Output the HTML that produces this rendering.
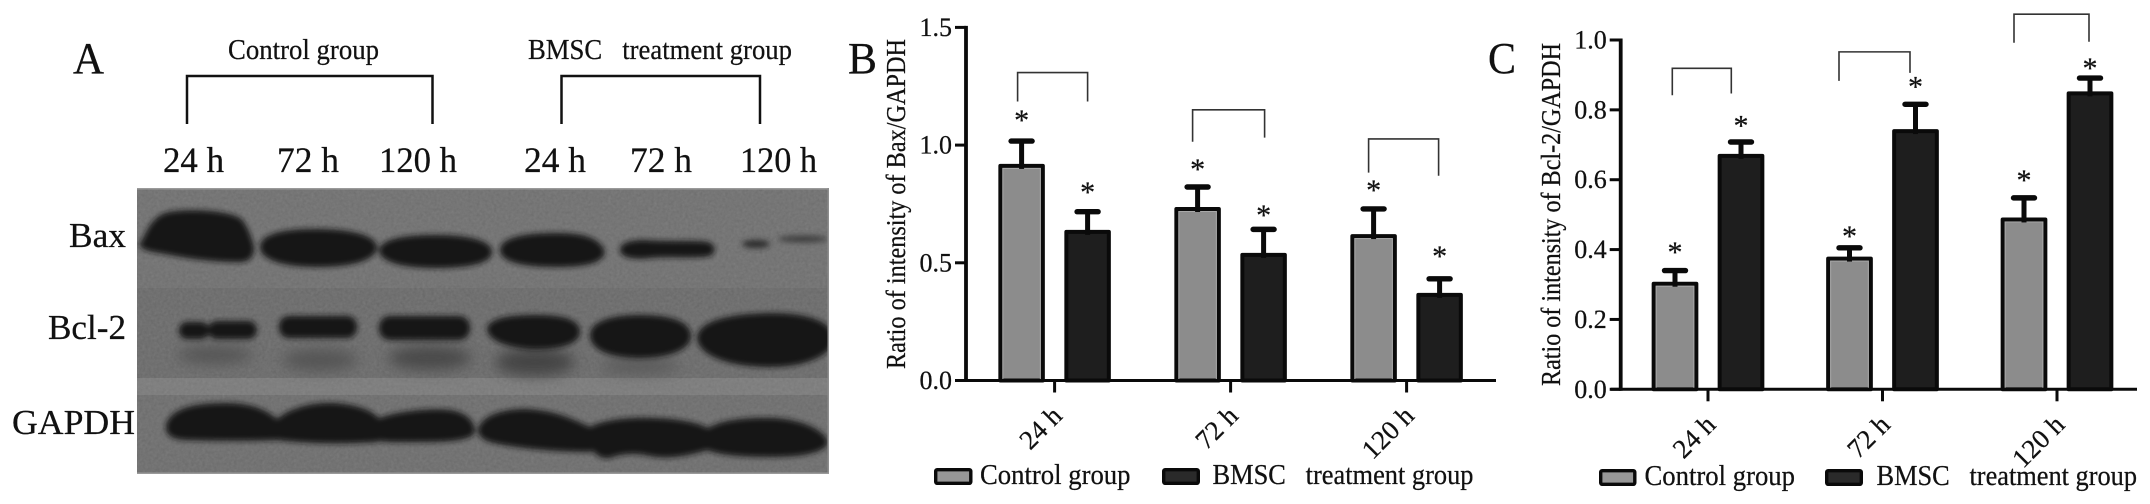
<!DOCTYPE html>
<html lang="en">
<head>
<meta charset="utf-8">
<title>Bax and Bcl-2 western blot and intensity ratios</title>
<style>
html,body{margin:0;padding:0;background:#fff;width:2150px;height:504px;overflow:hidden}
svg{display:block;position:absolute;left:0;top:0}
text{font-family:"Liberation Serif","Times New Roman",serif;fill:#111;stroke:#111;stroke-width:.25px;white-space:pre}
</style>
</head>
<body>
<svg id="figure" xmlns="http://www.w3.org/2000/svg" width="2150" height="504" viewBox="0 0 2150 504">
  <defs>
    <filter id="blur-band" x="-20%" y="-40%" width="140%" height="180%"><feGaussianBlur stdDeviation="2.8"/></filter>
    <filter id="blur-soft" x="-30%" y="-60%" width="160%" height="220%"><feGaussianBlur stdDeviation="7"/></filter>
    <filter id="blur-edge" x="-5%" y="-60%" width="110%" height="220%"><feGaussianBlur stdDeviation="5"/></filter>
    <filter id="grain" x="0" y="0" width="100%" height="100%"><feTurbulence type="fractalNoise" baseFrequency="0.35" numOctaves="2" seed="4"/><feColorMatrix type="matrix" values="0 0 0 0 0.5  0 0 0 0 0.5  0 0 0 0 0.5  0.6 0.6 0 0 -0.2"/></filter>
    <clipPath id="blot-clip"><rect x="137" y="188" width="692" height="286"/></clipPath>
  </defs>

  <g id="panel-a">
    <text x="73" y="73" font-size="44" textLength="31" lengthAdjust="spacingAndGlyphs">A</text>
    <text x="228" y="59" font-size="29" textLength="151" lengthAdjust="spacingAndGlyphs">Control group</text>
    <text x="528" y="59" font-size="29" textLength="264" lengthAdjust="spacingAndGlyphs">BMSC   treatment group</text>
    <path d="M187 124V76H432.500V124" fill="none" stroke="#111" stroke-width="2.500"/>
    <path d="M561.500 124V76H760V124" fill="none" stroke="#111" stroke-width="2.500"/>
    <text x="163" y="172" font-size="36" textLength="61" lengthAdjust="spacingAndGlyphs">24 h</text>
    <text x="277" y="172" font-size="36" textLength="62" lengthAdjust="spacingAndGlyphs">72 h</text>
    <text x="379" y="172" font-size="36" textLength="78" lengthAdjust="spacingAndGlyphs">120 h</text>
    <text x="524" y="172" font-size="36" textLength="62" lengthAdjust="spacingAndGlyphs">24 h</text>
    <text x="630" y="172" font-size="36" textLength="62" lengthAdjust="spacingAndGlyphs">72 h</text>
    <text x="740" y="172" font-size="36" textLength="77" lengthAdjust="spacingAndGlyphs">120 h</text>

    <g clip-path="url(#blot-clip)">
      <rect x="137" y="188" width="692" height="286" fill="#6e6e6e"/>
      <rect x="137" y="288" width="692" height="90" fill="#686868"/>
      <rect x="137" y="378" width="692" height="22" fill="#797979"/>
      <rect x="137" y="395" width="692" height="79" fill="#6b6b6b"/>
      <rect x="137" y="188" width="692" height="286" filter="url(#grain)" opacity="0.25"/>
      <g filter="url(#blur-soft)" fill="#555">
        <ellipse cx="215" cy="355" rx="38" ry="9"/>
        <ellipse cx="320" cy="360" rx="38" ry="11"/>
        <ellipse cx="430" cy="358" rx="42" ry="12" fill="#4a4a4a"/>
        <ellipse cx="535" cy="362" rx="40" ry="14" fill="#444"/>
        <ellipse cx="640" cy="366" rx="40" ry="8" fill="#5a5a5a"/>
      </g>
      <g filter="url(#blur-band)" fill="#131313">
        <path d="M139 245C146 236 148 220 165 213C185 208 225 210 240 218C247 224 250 234 254 246C255 258 248 263 236 262C215 262 190 259 165 254C155 252 144 252 139 245Z"/>
        <path d="M260 247C260 235 280 229 315 229C350 229 376 235 377 247C377 260 352 267 318 267C284 267 260 260 260 247Z"/>
        <path d="M379 250C381 240 400 235 435 235C470 235 492 241 492 252C492 263 470 268 435 268C400 268 379 261 379 250Z"/>
        <path d="M500 250C500 239 520 233 555 233C585 233 600 238 605 252C603 262 590 267 555 267C520 267 500 261 500 250Z"/>
        <path d="M620 250C620 243 630 240 645 240C670 242 695 240 708 242C716 245 717 252 710 256C695 259 670 256 650 258C632 260 620 257 620 250Z"/>
        <ellipse cx="756" cy="244" rx="14" ry="4" fill="#2c2c2c"/>
        <ellipse cx="803" cy="239" rx="25" ry="3.500" fill="#3e3e3e"/>
      </g>
      <g filter="url(#blur-band)" fill="#131313">
        <rect x="179" y="322" width="30" height="17" rx="8"/>
        <rect x="208" y="321" width="49" height="18" rx="9"/>
        <rect x="279" y="316" width="78" height="22" rx="10"/>
        <rect x="379" y="316" width="91" height="24" rx="11"/>
        <path d="M487 328C490 318 510 315 535 315C565 315 580 320 580 332C580 344 560 350 530 349C505 347 487 340 487 328Z"/>
        <path d="M590 335C590 322 610 315 640 315C672 315 691 322 691 336C691 350 668 358 640 358C610 358 590 350 590 335Z"/>
        <path d="M697 337C699 322 725 314 770 313C810 313 832 322 834 338C834 355 805 368 765 367C725 366 697 354 697 337Z"/>
      </g>
      <g filter="url(#blur-band)" fill="#131313">
        <path d="M166 425C170 410 190 403 225 403C255 403 270 412 280 422L280 440C250 441 220 441 185 440C170 439 165 434 166 425Z"/>
        <path d="M276 420C290 407 315 402 335 403C360 405 375 412 380 420L378 442C345 444 310 444 278 440Z"/>
        <path d="M375 420C395 411 430 408 450 410C468 413 475 422 475 432C473 440 450 442 425 442C405 442 385 443 375 440Z"/>
        <path d="M478 430C480 417 500 409 525 409C555 410 575 420 592 428L592 452C565 452 535 450 510 446C490 443 478 440 478 430Z"/>
        <path d="M588 428C605 418 640 416 670 419C690 421 705 425 710 430L708 450C690 455 670 460 650 456C635 452 620 454 610 458C598 460 590 450 588 440Z"/>
        <path d="M703 432C715 420 745 417 775 418C805 420 827 432 828 443C825 452 805 457 770 457C740 457 715 455 703 448Z"/>
      </g>
      <rect x="137" y="188" width="692" height="1.500" fill="#9a9a9a"/>
      <rect x="827.500" y="188" width="1.500" height="286" fill="#8e8e8e"/>
      <rect x="137" y="472.500" width="692" height="1.500" fill="#9a9a9a"/>
    </g>
    <text x="69" y="247" font-size="35" textLength="57" lengthAdjust="spacingAndGlyphs">Bax</text>
    <text x="48" y="339" font-size="35" textLength="78" lengthAdjust="spacingAndGlyphs">Bcl-2</text>
    <text x="12" y="434" font-size="35" textLength="123" lengthAdjust="spacingAndGlyphs">GAPDH</text>
  </g>

  <g id="panel-b"></g>
  <g id="panel-c"></g>
</svg>

<script>
// ---- shared category and legend labels ----
const categories = ["24 h", "72 h", "120 h"];
const seriesNames = ["Control group", "BMSC   treatment group"];

// ---- panel B: Bax / GAPDH ----
const baxTicks = ["0.0", "0.5", "1.0", "1.5"];
const baxControl = [0.92, 0.737, 0.622];
const baxTreatment = [0.64, 0.542, 0.372];
const baxControlUpper = [1.017, 0.822, 0.729];
const baxTreatmentUpper = [0.717, 0.642, 0.432];
const baxControlStar = [1.124, 0.916, 0.827];
const baxTreatmentStar = [0.818, 0.721, 0.546];
const baxBracketTop = [1.308, 1.15, 1.026];
const baxBracketLeft = [1.185, 1.014, 0.883];
const baxBracketRight = [1.185, 1.032, 0.87];

// ---- panel C: Bcl-2 / GAPDH ----
const bclTicks = ["0.0", "0.2", "0.4", "0.6", "0.8", "1.0"];
const bclControl = [0.308, 0.38, 0.492];
const bclTreatment = [0.674, 0.745, 0.853];
const bclControlUpper = [0.34, 0.405, 0.548];
const bclTreatmentUpper = [0.708, 0.816, 0.891];
const bclControlStar = [0.404, 0.451, 0.611];
const bclTreatmentStar = [0.766, 0.878, 0.931];
const bclBracketTop = [0.919, 0.966, 1.074];
const bclBracketLeft = [0.842, 0.883, 0.992];
const bclBracketRight = [0.847, 0.906, 0.995];

const NS = "http://www.w3.org/2000/svg";
function mk(parent, tag, attrs, content) {
  const el = document.createElementNS(NS, tag);
  for (const k in attrs) el.setAttribute(k, attrs[k]);
  if (content !== undefined) el.textContent = content;
  parent.appendChild(el);
  return el;
}

function drawPanel(p) {
  const root = document.getElementById(p.rootId);
  const yScale = v => p.y0 - (v / p.yMax) * (p.y0 - p.yTop);
  const xScale = i => p.firstTick + i * p.tickStep;

  // panel letter
  const letter = mk(root, "text", {x: p.letterX, y: 73, "font-size": 44, textLength: p.letterW, lengthAdjust: "spacingAndGlyphs"}, p.letter);
  
  

  // y axis title
  const title = mk(root, "text", {x: 0, y: 0, "font-size": 27, textLength: p.titleLen, lengthAdjust: "spacingAndGlyphs", transform: "translate(" + p.titleX + "," + p.titleBottom + ") rotate(-90)"}, p.title);
  
  

  // brackets and bars
  categories.forEach((cat, i) => {
    const cx = xScale(i) - p.barOffset;
    const tx = xScale(i) + p.barOffset;

    [[cx, p.control[i], p.controlUpper[i], p.controlStar[i], "#8c8c8c", "control"],
     [tx, p.treatment[i], p.treatmentUpper[i], p.treatmentStar[i], "#1e1e1e", "treatment"]].forEach(s => {
      const sx = s[0], top = yScale(s[1]), up = yScale(s[2]), star = yScale(s[3]);

      const bar = mk(root, "rect", {x: sx - p.barW / 2 + 2, y: top + 2, width: p.barW - 4, height: p.y0 - top - 2, fill: s[4], stroke: "#0a0a0a", "stroke-width": 4, "stroke-linejoin": "round"});
      
      

      if (s[5] === "control") {
        const inner = mk(root, "rect", {x: sx - p.barW / 2 + 4.5, y: top + 4.5, width: p.barW - 9, height: p.y0 - top - 5.5, fill: "none", stroke: "#a9a9a9", "stroke-width": 1});
        
        
      }

      const stem = mk(root, "line", {x1: sx, x2: sx, y1: up, y2: top + 5, stroke: "#0a0a0a", "stroke-width": 5});
      
      

      const cap = mk(root, "line", {x1: sx - 10.5, x2: sx + 10.5, y1: up, y2: up, stroke: "#0a0a0a", "stroke-width": 5.4, "stroke-linecap": "round"});
      
      

      const ast = mk(root, "text", {x: sx, y: star + 14, "font-size": 30, "text-anchor": "middle"}, "*");
      
      
    });

    const bl = cx + p.bracketNudgeL[i], br = tx + p.bracketNudgeR[i];
    const bracket = mk(root, "path", {d: "M" + bl + " " + yScale(p.bracketLeft[i]) + "V" + yScale(p.bracketTop[i]) + "H" + br + "V" + yScale(p.bracketRight[i]), fill: "none", stroke: "#333", "stroke-width": 1.6});
    
    

    const tick = mk(root, "line", {x1: xScale(i), x2: xScale(i), y1: p.y0, y2: p.y0 + 12, stroke: "#0a0a0a", "stroke-width": 3});
    
    

    const lab = mk(root, "text", {x: 0, y: 0, "font-size": 27, "text-anchor": "end", transform: "translate(" + (xScale(i) + 9) + "," + (p.y0 + 37) + ") rotate(-45)"}, cat);
    
    
  });

  // axes
  const yAxis = mk(root, "line", {x1: p.axisX, x2: p.axisX, y1: p.yTop - 1.5, y2: p.y0 + 1.5, stroke: "#0a0a0a", "stroke-width": 3.8});
  
  

  const xAxis = mk(root, "line", {x1: p.axisX - 10, x2: p.axisEnd, y1: p.y0, y2: p.y0, stroke: "#0a0a0a", "stroke-width": 3});
  
  

  p.ticks.forEach(t => {
    const yy = yScale(parseFloat(t));
    const tk = mk(root, "line", {x1: p.axisX - 11, x2: p.axisX, y1: yy, y2: yy, stroke: "#0a0a0a", "stroke-width": 3});
    
    

    const tl = mk(root, "text", {x: p.axisX - 14, y: yy + 8.5, "font-size": 26, "text-anchor": "end"}, t);
    
    
  });

  // legend
  const sw1 = mk(root, "rect", {x: p.leg[0] + 1.7, y: p.legY + 1.7, width: p.leg[1] - 3.4, height: 13.6, fill: "#979797", stroke: "#0a0a0a", "stroke-width": 3.4, rx: 1.5});
  
  

  const lt1 = mk(root, "text", {x: p.leg[2], y: p.legY + 16, "font-size": 28, textLength: p.leg[3], lengthAdjust: "spacingAndGlyphs"}, seriesNames[0]);
  
  

  const sw2 = mk(root, "rect", {x: p.leg[4] + 1.7, y: p.legY + 1.7, width: p.leg[5] - 3.4, height: 13.6, fill: "#2a2a2a", stroke: "#0a0a0a", "stroke-width": 3.4, rx: 1.5});
  
  

  const lt2 = mk(root, "text", {x: p.leg[6], y: p.legY + 16, "font-size": 28, textLength: p.leg[7], lengthAdjust: "spacingAndGlyphs"}, seriesNames[1]);
  
  
}

drawPanel({
  rootId: "panel-b", letter: "B", letterX: 848, letterW: 29,
  title: "Ratio of intensity of Bax/GAPDH", titleX: 905, titleBottom: 369, titleLen: 330,
  y0: 380.5, yTop: 27.4, yMax: 1.5, axisX: 966, axisEnd: 1496,
  firstTick: 1054.6, tickStep: 176, barOffset: 33, barW: 46.5,
  ticks: baxTicks,
  control: baxControl, treatment: baxTreatment,
  controlUpper: baxControlUpper, treatmentUpper: baxTreatmentUpper,
  controlStar: baxControlStar, treatmentStar: baxTreatmentStar,
  bracketTop: baxBracketTop, bracketLeft: baxBracketLeft, bracketRight: baxBracketRight,
  bracketNudgeL: [-4, -5, -5], bracketNudgeR: [0, 1, -1],
  legY: 468, leg: [934, 38.5, 980, 150.5, 1162, 38, 1212.5, 261]
});

drawPanel({
  rootId: "panel-c", letter: "C", letterX: 1488, letterW: 28,
  title: "Ratio of intensity of Bcl-2/GAPDH", titleX: 1560, titleBottom: 386, titleLen: 343,
  y0: 389.3, yTop: 40, yMax: 1, axisX: 1620.7, axisEnd: 2137,
  firstTick: 1708, tickStep: 174.5, barOffset: 33, barW: 46.7,
  ticks: bclTicks,
  control: bclControl, treatment: bclTreatment,
  controlUpper: bclControlUpper, treatmentUpper: bclTreatmentUpper,
  controlStar: bclControlStar, treatmentStar: bclTreatmentStar,
  bracketTop: bclBracketTop, bracketLeft: bclBracketLeft, bracketRight: bclBracketRight,
  bracketNudgeL: [-2.7, -10.5, -10], bracketNudgeR: [-9.7, -5.5, -1],
  legY: 469, leg: [1599, 37.5, 1644.5, 150.5, 1825, 38, 1876.5, 260.5]
});
</script>
</body>
</html>
